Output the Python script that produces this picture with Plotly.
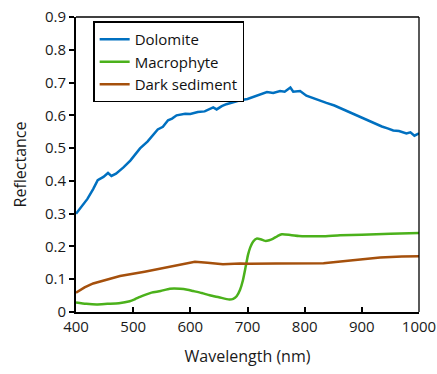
import plotly.graph_objects as go

# Dolomite
dol_x = [400, 410, 420, 430, 438, 448, 456, 462, 470, 483, 495, 512, 525, 543, 552, 561, 568, 576, 591, 600, 613,
         625, 640, 646, 655, 663, 675, 687, 700, 710, 722, 734, 745, 757, 765, 775, 780, 792, 803, 815, 827, 838,
         852, 867, 882, 897, 910, 920, 935, 945, 955, 965, 978, 985, 992, 1000]
dol_y = [0.300, 0.322, 0.345, 0.375, 0.402, 0.412, 0.424, 0.415, 0.422, 0.441, 0.462, 0.499, 0.520, 0.557, 0.565, 0.585,
         0.590, 0.600, 0.605, 0.604, 0.610, 0.612, 0.624, 0.618, 0.628, 0.634, 0.640, 0.646, 0.650, 0.656, 0.662,
         0.671, 0.668, 0.674, 0.672, 0.685, 0.672, 0.674, 0.660, 0.652, 0.645, 0.638, 0.630, 0.618, 0.608, 0.595,
         0.586, 0.577, 0.566, 0.560, 0.554, 0.552, 0.545, 0.548, 0.538, 0.545]

# Macrophyte
mac_x = [400, 418, 436, 455, 475, 494, 503, 512, 522, 532, 548, 564, 582, 595, 605, 620, 634, 650, 668, 675, 681,
         687, 692, 697, 701, 705, 710, 716, 723, 731, 738, 745, 752, 760, 775, 790, 803, 830, 862, 900, 950, 1000]
mac_y = [0.029, 0.025, 0.023, 0.025, 0.027, 0.033, 0.039, 0.046, 0.053, 0.059, 0.064, 0.071, 0.071, 0.068, 0.064,
         0.058, 0.051, 0.045, 0.038, 0.040, 0.048, 0.068, 0.097, 0.140, 0.175, 0.198, 0.215, 0.224, 0.222, 0.217,
         0.219, 0.224, 0.231, 0.237, 0.235, 0.232, 0.231, 0.231, 0.234, 0.236, 0.239, 0.241]

# Dark sediment
sed_x = [400, 415, 430, 455, 477, 520, 564, 590, 608, 630, 657, 687, 704, 750, 800, 833, 880, 932, 970, 1000]
sed_y = [0.059, 0.075, 0.087, 0.098, 0.110, 0.123, 0.137, 0.146, 0.153, 0.150, 0.146, 0.148, 0.147, 0.148, 0.148,
         0.149, 0.157, 0.166, 0.169, 0.170]

x_ticks = [400, 500, 600, 700, 800, 900, 1000]
y_ticks = [0, 0.1, 0.2, 0.3, 0.4, 0.5, 0.6, 0.7, 0.8, 0.9]
y_labels = ["0", "0.1", "0.2", "0.3", "0.4", "0.5", "0.6", "0.7", "0.8", "0.9"]

FONT = "Open Sans"
FS = 15

fig = go.Figure()
fig.add_trace(go.Scatter(x=dol_x, y=dol_y, mode="lines", name="Dolomite",
                         line=dict(color="#0070C0", width=2.5)))
fig.add_trace(go.Scatter(x=mac_x, y=mac_y, mode="lines", name="Macrophyte",
                         line=dict(color="#4BB11B", width=2.5, shape="spline", smoothing=0.6)))
fig.add_trace(go.Scatter(x=sed_x, y=sed_y, mode="lines", name="Dark sediment",
                         line=dict(color="#A5500C", width=2.5)))

fig.update_layout(
    width=437, height=374,
    margin=dict(l=76, r=18, t=17, b=62, autoexpand=False),
    paper_bgcolor="white", plot_bgcolor="white",
    font=dict(family=FONT, size=FS, color="#1a1a1a"),
    legend=dict(x=0.05, y=0.985, xanchor="left", yanchor="top",
                bordercolor="black", borderwidth=1.5, bgcolor="white",
                font=dict(family=FONT, size=15, color="#111111"),
                tracegroupgap=0, itemwidth=30),
    xaxis=dict(range=[400, 1000], tickmode="array", tickvals=x_ticks, automargin=False,
               showgrid=False, zeroline=False, showline=True, linecolor="black", linewidth=2,
               ticks="inside", ticklen=5, tickwidth=1.5, tickcolor="black",
               title=dict(text="Wavelength (nm)", standoff=16, font=dict(size=16)),
               tickfont=dict(size=FS)),
    yaxis=dict(range=[0, 0.9], tickmode="array", tickvals=y_ticks, ticktext=y_labels, automargin=False,
               showgrid=False, zeroline=False, showline=True, linecolor="black", linewidth=2,
               ticks="outside", ticklen=5, tickwidth=1.5, tickcolor="black",
               title=dict(text="Reflectance", standoff=14, font=dict(size=16)),
               tickfont=dict(size=FS)),
    showlegend=True,
)
# top and right frame lines (thinner)
fig.add_shape(type="line", xref="paper", yref="paper", x0=0, x1=1, y0=1, y1=1,
              line=dict(color="black", width=1.3))
fig.add_shape(type="line", xref="paper", yref="paper", x0=1, x1=1, y0=0, y1=1,
              line=dict(color="black", width=1.3))

fig.write_html("out.html")
